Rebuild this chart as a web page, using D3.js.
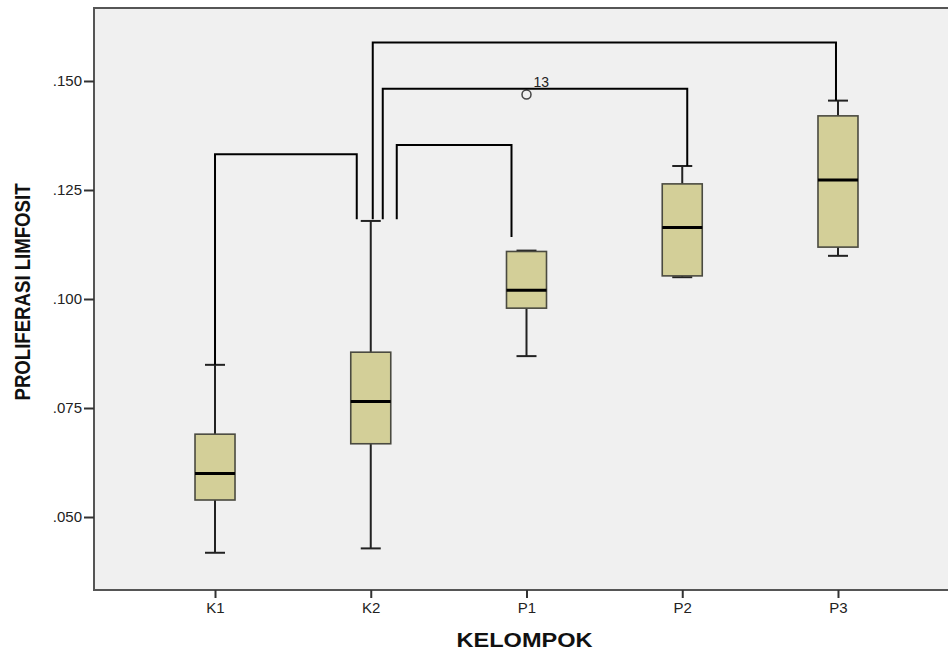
<!DOCTYPE html>
<html>
<head>
<meta charset="utf-8">
<script src="https://cdn.jsdelivr.net/npm/d3@7"></script>
<style>
body { margin: 0; background: #fff; }
svg { display: block; font-family: Arial, "Liberation Sans", sans-serif; }
</style>
</head>
<body>
<div id="chartArea"></div>
<script>
// data
const groups = ["K1", "K2", "P1", "P2", "P3"];
const mins    = [0.0418, 0.0428, 0.0869, 0.1050, 0.1099];
const q1s     = [0.0539, 0.0668, 0.0979, 0.1053, 0.1119];
const medians = [0.0600, 0.0765, 0.1020, 0.1164, 0.1273];
const q3s     = [0.0690, 0.0878, 0.1109, 0.1264, 0.1420];
const maxs    = [0.0849, 0.1179, 0.1111, 0.1305, 0.1455];
const outliers = [{ group: "P1", value: 0.1469, label: "13" }];
const yTicks = [0.050, 0.075, 0.100, 0.125, 0.150];

// significance brackets: from group, to group, top value, end values
const brFrom = ["K1", "K2", "K2", "K2"];
const brTo   = ["K2", "P3", "P2", "P1"];
const brTop  = [0.1332, 0.1588, 0.1482, 0.1353];
const brEndL = [0.0849, 0.1183, 0.1183, 0.1183];
const brEndR = [0.1183, 0.1455, 0.1305, 0.1142];
// horizontal offsets (px) of bracket legs from group centre
const brDxL = [0, 2, 12, 26];
const brDxR = [-14, -2, 5, -15];

const W = 948, H = 650;
const plot = { left: 94, top: 8, right: 959, bottom: 590 };

const svg = d3.select("#chartArea").append("svg")
  .attr("width", W).attr("height", H);

const x = d3.scalePoint()
  .domain(groups)
  .range([plot.left, plot.right])
  .padding(0.777);

const y = d3.scaleLinear()
  .domain([0.03326, 0.16674])
  .range([plot.bottom, plot.top]);

// plot background
svg.append("rect")
  .attr("x", plot.left).attr("y", plot.top)
  .attr("width", plot.right - plot.left)
  .attr("height", plot.bottom - plot.top)
  .attr("fill", "#f0f0f0")
  .attr("stroke", "#555")
  .attr("stroke-width", 2);

// axes
const yAxis = svg.append("g")
  .attr("transform", `translate(${plot.left},0)`)
  .call(d3.axisLeft(y).tickValues(yTicks).tickSize(10).tickPadding(2)
    .tickFormat(d => d3.format(".3f")(d).replace(/^0/, "")));
const xAxis = svg.append("g")
  .attr("transform", `translate(0,${plot.bottom})`)
  .call(d3.axisBottom(x).tickSize(8).tickPadding(4));
[yAxis, xAxis].forEach(a => {
  a.select(".domain").remove();
  a.selectAll("line").attr("stroke", "#333").attr("stroke-width", 2);
  a.selectAll("text").attr("fill", "#222").style("font-size", "15px")
    .style("font-family", "Arial, 'Liberation Sans', sans-serif");
});

const boxW = 40, capW = 20;
const stats = groups.map((g, i) => ({
  g, min: mins[i], q1: q1s[i], med: medians[i], q3: q3s[i], max: maxs[i]
}));

const box = svg.selectAll(".box").data(stats).enter().append("g");

// whiskers
box.append("line")
  .attr("x1", d => x(d.g)).attr("x2", d => x(d.g))
  .attr("y1", d => y(d.max)).attr("y2", d => y(d.q3))
  .attr("stroke", "#222").attr("stroke-width", 2);
box.append("line")
  .attr("x1", d => x(d.g)).attr("x2", d => x(d.g))
  .attr("y1", d => y(d.q1)).attr("y2", d => y(d.min))
  .attr("stroke", "#222").attr("stroke-width", 2);
box.selectAll(".cap")
  .data(d => [{ g: d.g, v: d.max }, { g: d.g, v: d.min }])
  .enter().append("line")
  .attr("x1", d => x(d.g) - capW / 2).attr("x2", d => x(d.g) + capW / 2)
  .attr("y1", d => y(d.v)).attr("y2", d => y(d.v))
  .attr("stroke", "#222").attr("stroke-width", 2);

// boxes
box.append("rect")
  .attr("x", d => x(d.g) - boxW / 2)
  .attr("y", d => y(d.q3))
  .attr("width", boxW)
  .attr("height", d => y(d.q1) - y(d.q3))
  .attr("fill", "#d3cf98")
  .attr("stroke", "#4a4a40")
  .attr("stroke-width", 1.6);
box.append("line")
  .attr("x1", d => x(d.g) - boxW / 2).attr("x2", d => x(d.g) + boxW / 2)
  .attr("y1", d => y(d.med)).attr("y2", d => y(d.med))
  .attr("stroke", "#000").attr("stroke-width", 3);

// outlier
svg.selectAll(".outlier").data(outliers).enter().append("circle")
  .attr("cx", d => x(d.group)).attr("cy", d => y(d.value))
  .attr("r", 4.5)
  .attr("fill", "none").attr("stroke", "#444").attr("stroke-width", 1.5);
svg.selectAll(".outlabel").data(outliers).enter().append("text")
  .attr("x", d => x(d.group) + 7).attr("y", d => y(d.value) - 8)
  .attr("fill", "#222").style("font-size", "14px")
  .text(d => d.label);

// brackets
const brackets = brFrom.map((f, i) => ({
  x1: x(f) + brDxL[i], x2: x(brTo[i]) + brDxR[i],
  top: brTop[i], l: brEndL[i], r: brEndR[i]
}));
svg.selectAll(".bracket").data(brackets).enter().append("path")
  .attr("d", d => `M${d.x1},${y(d.l)}V${y(d.top)}H${d.x2}V${y(d.r)}`)
  .attr("fill", "none").attr("stroke", "#000").attr("stroke-width", 2);

// titles
svg.append("text")
  .attr("text-anchor", "middle")
  .attr("transform", `translate(${(plot.left + plot.right) / 2 - 2},647)`)
  .style("font-size", "21px").style("font-weight", "bold")
  .attr("textLength", 136).attr("lengthAdjust", "spacingAndGlyphs")
  .attr("fill", "#111")
  .text("KELOMPOK");
svg.append("text")
  .attr("text-anchor", "middle")
  .attr("transform", "translate(30,292) rotate(-90) scale(1,1.2)")
  .style("font-size", "18.5px").style("font-weight", "bold")
  .attr("textLength", 217).attr("lengthAdjust", "spacingAndGlyphs")
  .attr("fill", "#111")
  .text("PROLIFERASI LIMFOSIT");
</script>
</body>
</html>
